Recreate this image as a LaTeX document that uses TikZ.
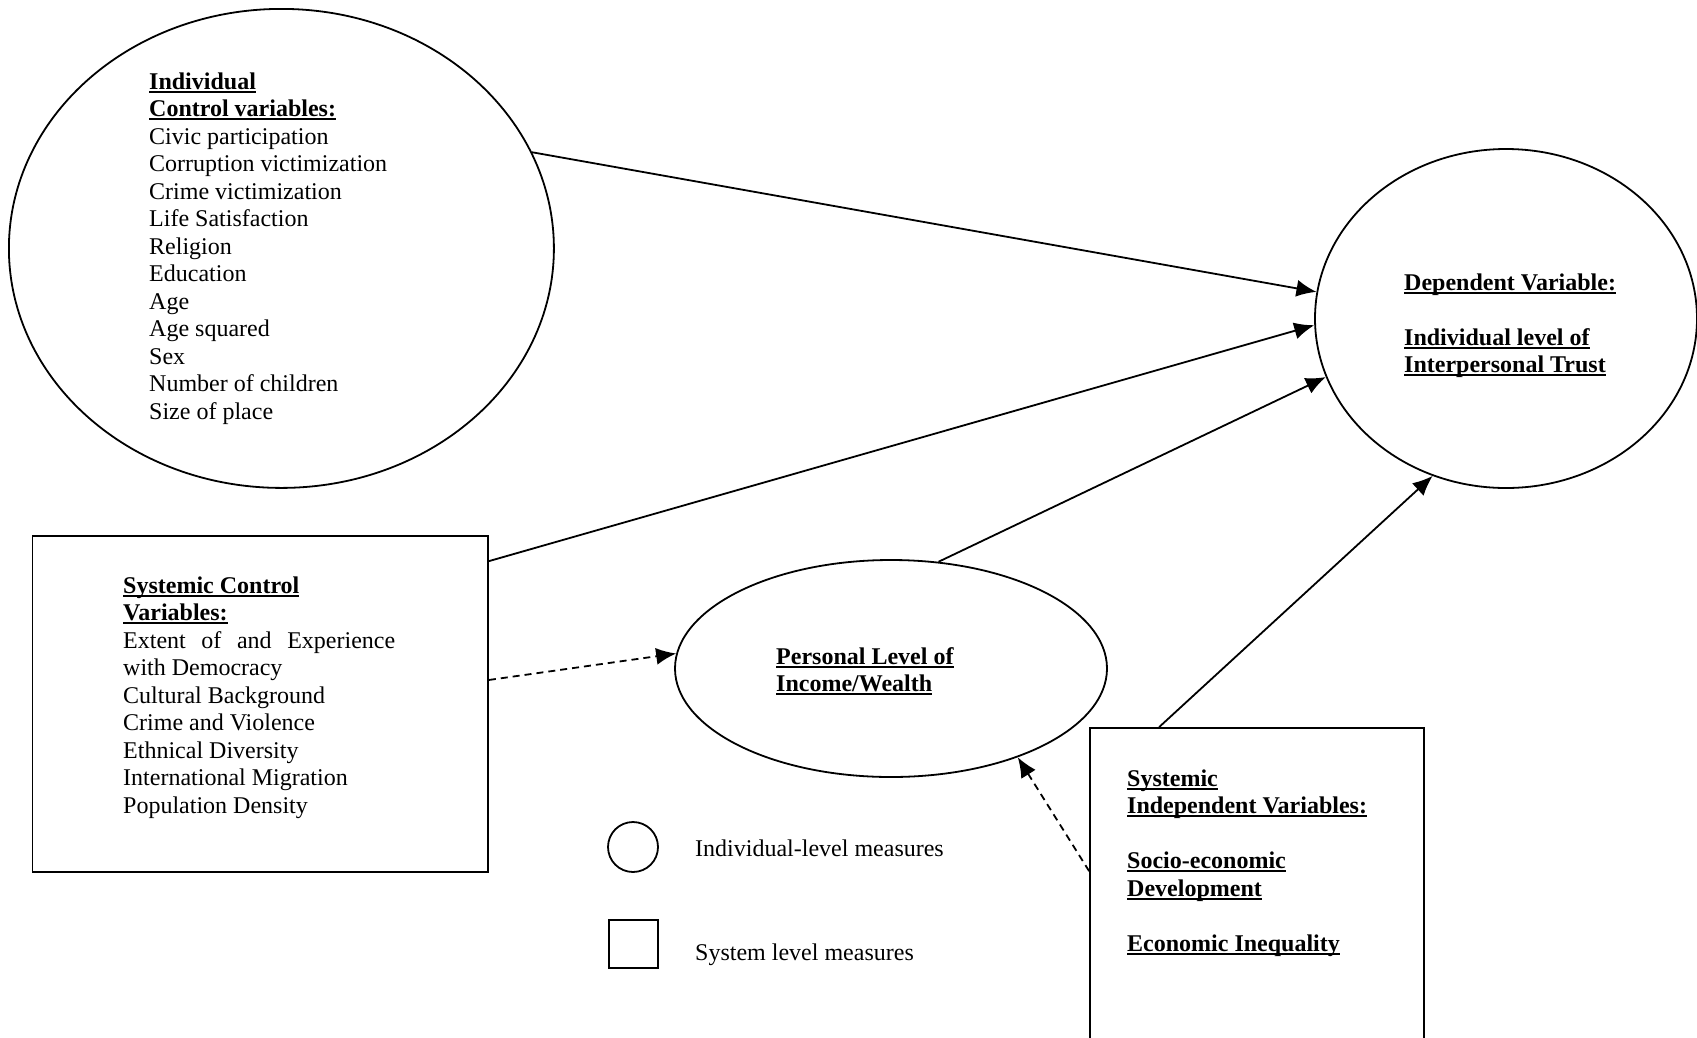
\documentclass[tikz,border=0pt]{standalone}
\usepackage{fontspec}
\setmainfont{Liberation Serif}
\usetikzlibrary{arrows.meta,shapes.geometric}
\newcommand\uln[1]{\setbox0\hbox{#1}\rlap{\rule[-3.5pt]{\wd0}{1.9pt}}\box0}
\newcommand\hd[1]{\hbox{\uln{\textbf{#1}}}}
\newcommand\tl[1]{\hbox{#1}}
\begin{document}
\begin{tikzpicture}[x=1pt,y=-1pt,
  shapeline/.style={draw=black,line width=1.8pt,inner sep=0pt},
  oval/.style={shapeline,ellipse},
  boxshape/.style={shapeline,rectangle},
  txt/.style={inner sep=0pt,anchor=base west,font=\fontsize{24}{27.5}\selectfont},
  conn/.style={line width=1.8pt,-{Latex[length=20pt,width=17pt]}},
  dconn/.style={conn,dash pattern=on 7pt off 5pt}]
\clip (0,0) rectangle (1697,1037);
\fill[white] (0,0) rectangle (1697,1037);
% shapes
\node[oval,minimum width=545pt,minimum height=479pt] (indiv) at (281.4,248.4) {};
\node[oval,minimum width=382pt,minimum height=339pt] (dep) at (1506,318.5) {};
\node[oval,minimum width=432pt,minimum height=217pt] (income) at (891,668.5) {};
\node[boxshape,minimum width=455.5pt,minimum height=336pt] (sysctrl) at (260.25,704) {};
\node[boxshape,minimum width=334pt,minimum height=340pt] (sysind) at (1257,898) {};
\node[oval,minimum width=50pt,minimum height=50pt] (legcirc) at (633,847) {};
\node[boxshape,minimum width=49pt,minimum height=48pt] (legbox) at (633.5,944) {};
% texts
\node[txt] (tindiv) at (149,89) {\vtop{\hd{Individual}\hd{Control variables:}\tl{Civic participation}\tl{Corruption victimization}\tl{Crime victimization}\tl{Life Satisfaction}\tl{Religion}\tl{Education}\tl{Age}\tl{Age squared}\tl{Sex}\tl{Number of children}\tl{Size of place}}};
\node[txt] (tdep) at (1404,290) {\vtop{\hd{Dependent Variable:}\hbox{}\hd{Individual level of}\hd{Interpersonal Trust}}};
\node[txt] (tsysctrl) at (123,593) {\vtop{\hd{Systemic Control}\hd{Variables:}\hbox to 272pt{Extent\hfil of\hfil and\hfil Experience}\tl{with Democracy}\tl{Cultural Background}\tl{Crime and Violence}\tl{Ethnical Diversity}\tl{International Migration}\tl{Population Density}}};
\node[txt] (tincome) at (776,664) {\vtop{\hd{Personal Level of}\hd{Income/Wealth}}};
\node[txt] (tsysind) at (1127,786) {\vtop{\hd{Systemic}\hd{Independent Variables:}\hbox{}\hd{Socio-economic}\hd{Development}\hbox{}\hd{Economic Inequality}}};
\node[txt] (tleg1) at (695,856) {Individual-level measures};
\node[txt] (tleg2) at (695,960) {System level measures};
% connectors
\draw[conn] (indiv.21.6) -- (dep.172.7);
\draw[conn] (sysctrl.32.3) -- (dep.182.8);
\draw[conn] (income.66.7) -- (dep.198.6);
\draw[conn] ([xshift=70pt]sysind.north west) -- (dep.245.1);
\draw[dconn] (sysctrl.6) -- (income.176.6);
\draw[dconn] ([yshift=-144pt]sysind.north west) -- (income.325);
\end{tikzpicture}
\end{document}
